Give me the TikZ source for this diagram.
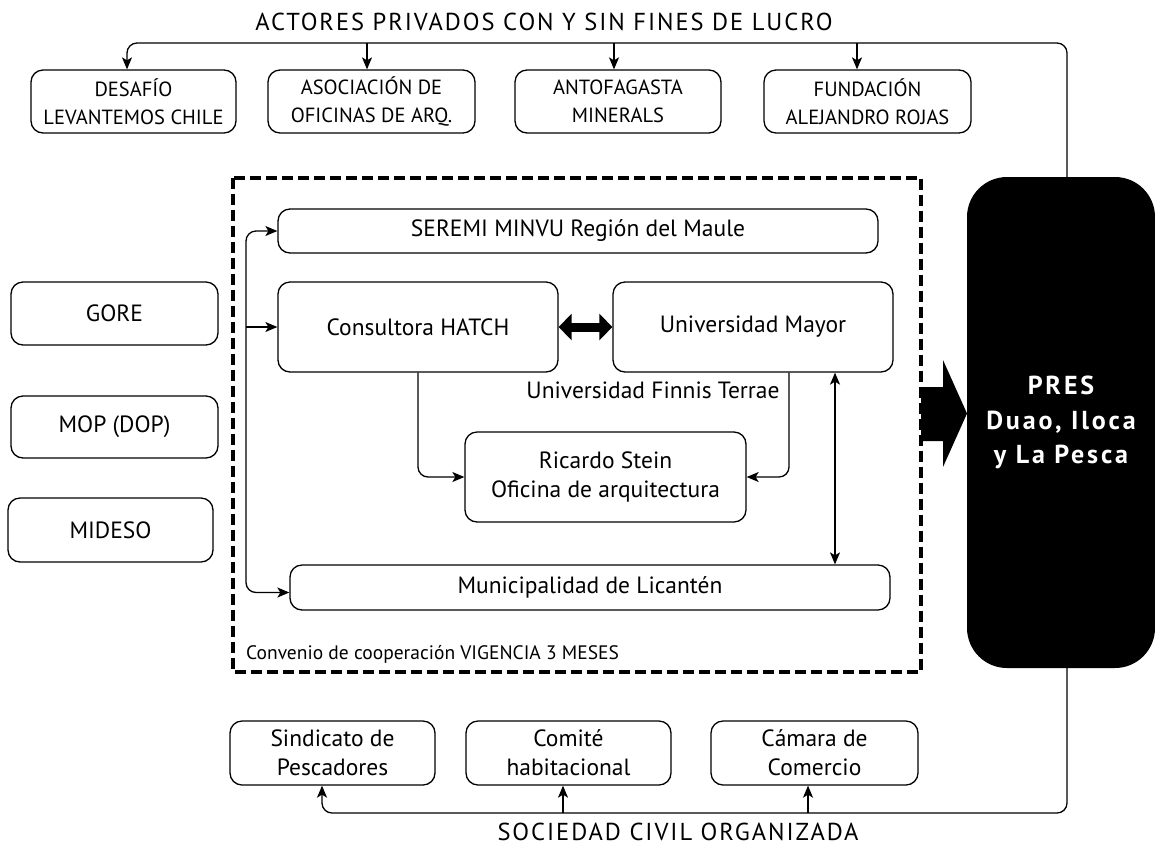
\documentclass[tikz,border=0pt]{standalone}
\usepackage{fontspec}
\setmainfont{PT Sans}
\newfontfamily\titlefont[LetterSpace=8]{PT Sans}
\newfontfamily\presfont[LetterSpace=11]{PT Sans}
\usetikzlibrary{arrows.meta}

\tikzset{
  box/.style={draw, rounded corners=12pt, line width=1.3pt, inner sep=0pt, align=center,
    font=\fontsize{23.5}{29}\selectfont},
  capsbox/.style={box, font=\fontsize{20.5}{28}\selectfont},
  link/.style={line width=1.3pt, -{Stealth[length=12pt,width=10pt,inset=3pt]}},
}

\begin{document}
\begin{tikzpicture}
[x=1pt,y=-1pt]
\useasboundingbox (0,0) rectangle (1155,847);

% actores privados
\node[font=\titlefont\fontsize{24.5}{28}\selectfont] (ttop) at (544,22) {ACTORES PRIVADOS CON Y SIN FINES DE LUCRO};
\node[capsbox, minimum width=205pt, minimum height=63pt] (desafio) at (133.5,101.5) {DESAFÍO\\LEVANTEMOS CHILE};
\node[capsbox, minimum width=207pt, minimum height=63pt] (asoc) at (371.5,101.5) {ASOCIACIÓN DE\\OFICINAS DE ARQ.};
\node[capsbox, minimum width=206pt, minimum height=63pt] (antofa) at (618,101.5) {ANTOFAGASTA\\MINERALS};
\node[capsbox, minimum width=207pt, minimum height=63pt] (fund) at (867.5,101.5) {FUNDACIÓN\\ALEJANDRO ROJAS};

% organismos publicos
\node[box, minimum width=207pt, minimum height=63pt] (gore) at (114.5,313.5) {GORE};
\node[box, minimum width=207pt, minimum height=62pt] (mop) at (114.5,427) {MOP (DOP)};
\node[box, minimum width=205pt, minimum height=64pt] (mideso) at (110.5,530) {MIDESO};

% convenio
\draw[line width=3.5pt, dash pattern=on 11pt off 5pt] (233,178) rectangle (921,672);
\node[box, minimum width=600pt, minimum height=44pt] (seremi) at (578,231) {SEREMI MINVU Región del Maule};
\node[box, minimum width=280pt, minimum height=90pt] (hatch) at (418,327) {Consultora HATCH};
\node[box, minimum width=280pt, minimum height=90pt] (umayor) at (753,327) {Universidad Mayor};
\node[font=\fontsize{23.5}{28}\selectfont] (finnis) at (653,390) {Universidad Finnis Terrae};
\node[box, minimum width=281pt, minimum height=90pt] (stein) at (605.5,477) {Ricardo Stein\\Oficina de arquitectura};
\node[box, minimum width=600pt, minimum height=45pt] (muni) at (590,587.5) {Municipalidad de Licantén};
\node[anchor=west, inner sep=0pt, font=\fontsize{19.5}{22}\selectfont] (conv) at (246,654) {Convenio de cooperación VIGENCIA 3 MESES};

% PRES
\node[fill=black, rounded corners=40pt, minimum width=188pt, minimum height=491pt, text=white,
  align=center, font=\presfont\bfseries\fontsize{26}{34.5}\selectfont] (pres) at (1061,422.5) {PRES\\Duao, Iloca\\y La Pesca};
\fill (921,387) -- (943,387) -- (943,360) -- (967,413.5) -- (943,467) -- (943,441) -- (921,441) -- cycle;

% sociedad civil
\node[box, minimum width=205pt, minimum height=64pt] (sind) at (332.5,753) {Sindicato de\\Pescadores};
\node[box, minimum width=205pt, minimum height=64pt] (comite) at (568.5,753) {Comité\\habitacional};
\node[box, minimum width=207pt, minimum height=64pt] (camara) at (814.5,753) {Cámara de\\Comercio};
\node[font=\titlefont\fontsize{24.5}{28}\selectfont] (tbot) at (678,832) {SOCIEDAD CIVIL ORGANIZADA};

\coordinate (bustop) at (127,43);
\coordinate (busbot) at (322,813);
\coordinate (lb) at (246,400);

\draw[link, rounded corners=10pt] ([xshift=6pt]pres.north) |- (bustop) -- ([xshift=-6.5pt]desafio.north);
\foreach \to/\dx in {asoc/-4.5,antofa/-4,fund/-10.5}
\draw[link] ([xshift=\dx pt]\to.north |- bustop) -- ([xshift=\dx pt]\to.north);

\draw[link, rounded corners=10pt] ([xshift=6pt]pres.south) |- (busbot) -- ([xshift=-10.5pt]sind.south);
\foreach \to/\dx in {comite/-5.5,camara/-6.5}
\draw[link] ([xshift=\dx pt]\to.south |- busbot) -- ([xshift=\dx pt]\to.south);

\draw[link, {Stealth[length=12pt,width=10pt,inset=3pt]}-{Stealth[length=12pt,width=10pt,inset=3pt]}, rounded corners=10pt]
  (seremi.west) -| (lb) |- ([yshift=-5pt]muni.west);
\draw[link] (lb |- hatch.west) -- (hatch.west);
\draw[link, rounded corners=10pt] (hatch.south) |- (stein.west);
\draw[link, rounded corners=10pt] ([xshift=36pt]umayor.south) |- (stein.east);
\draw[link, {Stealth[length=12pt,width=10pt,inset=3pt]}-{Stealth[length=12pt,width=10pt,inset=3pt]}]
  ([xshift=82pt]umayor.south) -- ([xshift=245pt]muni.north);
\draw[line width=9pt, {Triangle[length=13pt,width=26pt]}-{Triangle[length=13pt,width=26pt]}]
  (hatch.east) -- (umayor.west);
\end{tikzpicture}
\end{document}
